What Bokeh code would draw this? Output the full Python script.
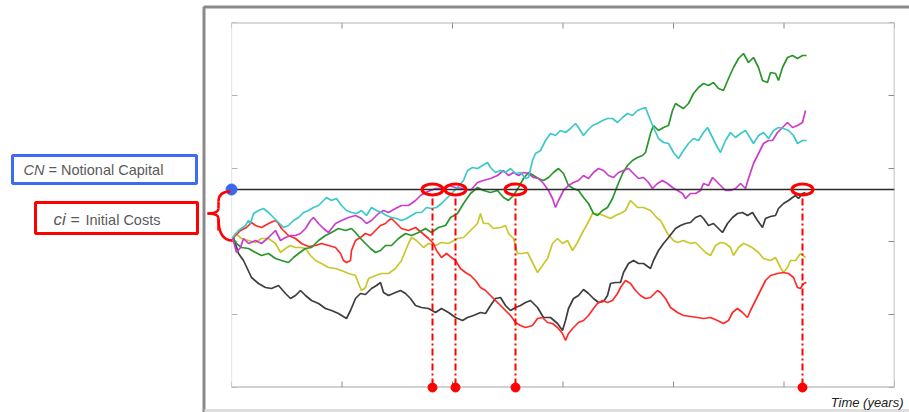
from bokeh.plotting import figure
from bokeh.models import Range1d, Span
from bokeh.core.properties import value
from bokeh.embed import file_html
from bokeh.resources import INLINE
import numpy as np

# ---------------- data (time steps, level) ----------------
T_END = 663
V_TOP = 365
CN_LEVEL = 198          # notional capital
START_LEVEL = 150       # CN minus initial costs
crossing_t = [201, 224, 284, 571]

black = [(2,150),(7,134),(12,127),(20,110),(27,104),(34,100),(40,99),(47,102),(54,94),(59,89),
         (64,92),(69,97),(74,92),(80,87),(87,84),(94,79),(100,77),(107,74),(115,69),(119,77),
         (124,89),(129,94),(134,93),(140,99),(145,102),(149,105),(152,95),(157,92),(164,95),(169,97),
         (174,94),(179,89),(184,82),(190,80),(197,79),(204,75),(210,79),(217,75),(224,70),(231,67),
         (236,70),(242,72),(249,75),(254,74),(259,82),(264,89),(269,90),(274,82),(279,77),(284,80),
         (289,82),(294,85),(299,87),(306,80),(312,70),(319,70),(326,64),(331,57),(334,67),(337,79),
         (342,89),(347,92),(352,98),(357,94),(362,89),(367,85),(372,86),(376,92),(379,104),(384,105),
         (389,105),(392,115),(397,124),(402,127),(407,124),(412,124),(419,119),(422,127),(427,137),(432,144),
         (437,150),(444,159),(449,162),(454,164),(459,165),(464,170),(469,172),(472,169),(477,162),(482,164),
         (487,159),(491,155),(496,164),(501,170),(506,174),(511,175),(516,172),(521,175),(526,167),(531,160),
         (534,169),(539,171),(544,172),(547,179),(552,184),(557,187),(561,190),(564,192),(567,189),(571,194),
         (574,195)]

red = [(2,150),(9,157),(15,160),(20,165),(24,162),(30,160),(39,165),(44,167),(47,164),(50,159),
       (57,152),(64,149),(70,144),(77,141),(84,142),(90,144),(97,142),(104,140),(109,134),(112,127),
       (115,125),(119,127),(120,137),(124,147),(129,150),(134,154),(139,152),(144,157),(149,162),(154,164),
       (157,167),(160,169),(164,165),(170,159),(177,157),(184,160),(190,155),(197,149),(202,144),(205,137),
       (210,130),(215,134),(220,130),(224,127),(229,119),(234,115),(239,112),(244,107),(249,100),(254,97),
       (259,92),(264,87),(269,82),(274,77),(279,72),(284,65),(289,62),(294,60),(301,62),(306,69),
       (311,70),(316,65),(321,64),(326,60),(331,54),(334,47),(337,54),(342,60),(347,65),(352,67),
       (357,72),(362,79),(366,84),(371,87),(376,85),(381,87),(386,94),(389,100),(394,107),(399,104),
       (404,97),(409,92),(414,89),(419,90),(426,97),(429,95),(434,89),(439,80),(446,75),(452,72),
       (459,71),(466,70),(472,69),(479,70),(486,67),(492,64),(497,67),(501,75),(506,79),(511,75),
       (516,70),(519,77),(524,87),(529,97),(534,107),(539,112),(546,114),(552,115),(557,114),(562,110),
       (566,100),(569,99),(572,104),(575,105)]

yellow = [(2,150),(4,154),(10,149),(17,147),(24,145),(30,149),(37,149),(44,144),(49,135),(54,139),
          (59,142),(64,140),(69,140),(74,139),(79,132),(84,127),(90,124),(97,120),(104,119),(110,117),
          (117,114),(124,112),(127,104),(130,97),(134,100),(137,109),(144,112),(150,114),(157,114),(164,119),
          (170,127),(177,144),(180,150),(185,147),(192,140),(197,144),(204,142),(210,145),(217,144),(226,149),
          (232,150),(239,157),(246,164),(249,174),(252,164),(257,164),(262,159),(269,160),(274,162),(277,154),
          (282,149),(286,134),(291,134),(296,135),(301,125),(306,115),(311,122),(316,129),(321,144),(326,149),
          (331,144),(336,147),(341,137),(346,145),(351,155),(356,164),(361,174),(366,174),(372,172),(379,169),
          (384,172),(389,174),(394,177),(399,187),(406,180),(412,180),(419,177),(426,169),(429,167),(436,154),
          (442,147),(446,145),(452,147),(459,144),(464,145),(469,140),(474,135),(479,132),(484,142),(489,145),
          (494,144),(499,140),(502,132),(507,140),(512,144),(517,142),(522,139),(527,135),(532,129),(539,127),
          (544,130),(549,120),(552,115),(556,120),(559,127),(564,127),(569,134),(574,130)]

green = [(1,150),(5,144),(10,140),(17,139),(24,135),(30,132),(37,134),(44,129),(50,127),(57,125),
         (62,130),(67,134),(74,139),(80,140),(87,147),(94,152),(100,155),(107,159),(114,157),(120,159),
         (124,155),(129,149),(134,144),(139,139),(144,135),(149,137),(154,142),(160,142),(167,149),(174,154),
         (180,152),(187,155),(194,159),(200,155),(207,160),(214,162),(219,170),(226,174),(232,184),(239,194),
         (246,200),(252,197),(259,195),(266,197),(272,190),(277,187),(282,192),(287,200),(292,209),(297,215),
         (302,212),(307,209),(312,207),(317,210),(322,215),(327,219),(332,214),(337,202),(342,199),(347,197),
         (352,190),(357,184),(362,174),(366,172),(371,177),(376,180),(381,189),(386,202),(391,214),(396,222),
         (401,227),(406,230),(411,232),(414,235),(419,254),(422,262),(427,257),(432,260),(437,262),(441,277),
         (444,284),(447,282),(452,279),(457,284),(462,294),(467,300),(472,304),(477,302),(482,305),(487,299),
         (492,297),(497,309),(502,320),(507,329),(512,334),(517,325),(522,330),(527,320),(531,307),(536,305),
         (539,315),(544,314),(547,307),(551,320),(556,330),(561,332),(566,329),(571,332),(575,332)]

magenta = [(1,150),(5,135),(9,140),(12,149),(17,144),(24,147),(30,144),(37,150),(44,157),(49,147),
           (54,150),(59,152),(64,152),(69,154),(74,159),(79,167),(82,170),(87,164),(92,159),(97,155),
           (104,164),(110,167),(117,170),(124,172),(130,169),(135,164),(140,167),(147,174),(152,177),(157,175),
           (164,179),(170,182),(177,182),(184,187),(189,192),(194,195),(199,197),(204,199),(210,199),(217,202),
           (224,200),(232,199),(239,197),(246,205),(252,207),(259,209),(266,212),(272,217),(277,212),(282,215),
           (287,212),(292,215),(297,214),(302,210),(307,209),(312,204),(317,197),(321,189),(324,180),(327,187),
           (332,197),(337,202),(342,205),(347,207),(352,212),(357,209),(362,215),(367,219),(372,217),(377,212),
           (382,210),(387,215),(392,217),(397,219),(402,214),(407,209),(412,210),(417,205),(421,199),(426,204),
           (431,207),(436,204),(441,200),(446,197),(451,194),(454,189),(459,194),(464,194),(469,197),(472,204),
           (477,202),(481,210),(486,205),(491,200),(494,197),(499,197),(504,199),(509,204),(514,199),(517,209),
           (522,224),(527,234),(532,244),(537,247),(541,247),(546,255),(551,260),(556,265),(561,260),(566,262),
           (571,265),(574,277)]

cyan = [(1,150),(7,157),(14,162),(17,167),(19,164),(22,174),(27,177),(32,179),(37,175),(42,170),
        (47,165),(52,160),(57,162),(62,167),(67,170),(72,175),(77,177),(82,180),(87,182),(92,187),
        (95,190),(100,187),(105,189),(110,182),(115,177),(120,175),(125,174),(130,177),(135,172),(140,180),
        (145,177),(150,175),(155,172),(160,170),(165,169),(170,167),(175,169),(180,172),(185,175),(190,175),
        (195,180),(200,179),(205,180),(210,184),(215,189),(220,194),(225,199),(232,207),(236,217),(241,220),
        (246,219),(251,222),(256,225),(259,220),(264,215),(269,217),(274,215),(279,219),(284,214),(289,215),
        (294,209),(297,210),(301,227),(304,234),(309,237),(314,247),(319,254),(324,252),(329,257),(334,255),
        (339,259),(344,264),(347,260),(352,252),(356,257),(361,262),(366,264),(371,267),(376,269),(381,269),
        (386,265),(391,270),(396,274),(401,272),(406,277),(411,279),(414,280),(417,272),(422,260),(427,249),
        (432,245),(437,244),(442,235),(447,229),(452,237),(457,244),(462,249),(467,247),(472,255),(476,260),
        (481,250),(486,240),(489,235),(494,247),(499,255),(504,250),(509,254),(514,257),(519,249),(522,244),
        (527,252),(532,255),(537,249),(542,257),(547,260),(552,259),(557,257),(562,252),(566,244),(571,247),
        (575,247)]

series = [
    (yellow, "#c8c82a"),
    (black, "#3d3d3d"),
    (red, "#ff2b2b"),
    (green, "#2a952a"),
    (magenta, "#cc3ccc"),
    (cyan, "#3cc8c8"),
]

x_ticks = [float(v) for v in np.linspace(0, T_END, 7)]
y_ticks = [float(v) for v in np.linspace(0, V_TOP, 6)]

# ---------------- figure ----------------
p = figure(width=909, height=412, output_backend="svg", toolbar_location=None,
           x_range=Range1d(0, T_END), y_range=Range1d(0, V_TOP),
           x_axis_type=None, y_axis_type=None,
           min_border_left=231, min_border_right=15, min_border_top=22, min_border_bottom=25)
p.grid.visible = False
p.outline_line_color = None
p.background_fill_color = "white"
p.border_fill_color = "white"

# axes box (MATLAB style, ticks pointing inwards)
p.add_layout(Span(location=0, dimension="height", line_color="#d2d2d2", line_width=1.2))
p.add_layout(Span(location=T_END, dimension="height", line_color="#b0b0b0", line_width=1.5))
p.add_layout(Span(location=0, dimension="width", line_color="#a4a4a4", line_width=2))
p.add_layout(Span(location=V_TOP, dimension="width", line_color="#b4b4b4", line_width=2))
TICK = 6
nx, ny = len(x_ticks), len(y_ticks)
p.segment(x0=x_ticks, y0=[0] * nx, x1=x_ticks, y1=[TICK] * nx, line_color="#8a8a8a", line_width=1)
p.segment(x0=x_ticks, y0=[V_TOP] * nx, x1=x_ticks, y1=[V_TOP - TICK] * nx, line_color="#8a8a8a", line_width=1)
p.segment(x0=[0] * ny, y0=y_ticks, x1=[TICK] * ny, y1=y_ticks, line_color="#b0b0b0", line_width=1)
p.segment(x0=[T_END] * ny, y0=y_ticks, x1=[T_END - TICK] * ny, y1=y_ticks, line_color="#8a8a8a", line_width=1)

for data, color in series:
    t = [a for a, b in data]
    v = [b for a, b in data]
    p.line(t, v, line_color=color, line_width=1.7)

p.add_layout(Span(location=CN_LEVEL, dimension="width", line_color="#2b2b2b", line_width=1.6))

# crossing markers
n = len(crossing_t)
p.segment(x0=crossing_t, y0=[CN_LEVEL - 9] * n, x1=crossing_t, y1=[0] * n,
          line_color="#ff0000", line_width=2, line_dash="7 3 2 3")
p.ellipse(x=crossing_t, y=[CN_LEVEL] * n, width=21, height=11,
          width_units="screen", height_units="screen",
          fill_color=None, line_color="#ff0000", line_width=3, level="overlay")
p.scatter(x=crossing_t, y=[0] * n, size=9, fill_color="#ff0000", line_color="#ff0000",
          level="overlay")

# starting point (notional capital)
p.scatter(x=[0], y=[CN_LEVEL], size=11, fill_color="#3a66f0", line_color="#3a66f0",
          level="overlay")

# curly brace between CN and starting level
mid = (CN_LEVEL + START_LEVEL) / 2
bx, tip = -13, -24
p.quadratic(x0=[-1, bx, tip, bx], y0=[CN_LEVEL - 2, mid + 5, mid, mid - 5],
            x1=[bx, tip, bx, 1], y1=[CN_LEVEL - 12, mid, mid - 5, START_LEVEL - 3],
            cx=[bx, bx, bx, bx], cy=[CN_LEVEL - 2, mid, mid, START_LEVEL - 3],
            line_color="#ff0000", line_width=2.5, level="overlay")
p.segment(x0=[bx, bx], y0=[CN_LEVEL - 12, mid - 5], x1=[bx, bx], y1=[mid + 5, START_LEVEL + 7],
          line_color="#ff0000", line_width=2.5, level="overlay")

# label boxes
p.quad(left=[-219], right=[-35], bottom=[204], top=[232], fill_color=None,
       line_color="#3d6cf0", line_width=3, level="overlay")
p.quad(left=[-196], right=[-34], bottom=[154], top=[185], fill_color=None,
       line_color="#ff0000", line_width=3, level="overlay")

# outer window frame
p.segment(x0=[-27.5, -27.5, -27], y0=[381, 380.5, -23], x1=[-27.5, 700, 700], y1=[-30, 380.5, -23],
          line_color=["#8a8a8a", "#8a8a8a", "#dedede"], line_width=3, level="overlay")

FONT = value("Liberation Sans")
GREY = "#5a5a5a"


def txt(x, y, s, size, style="normal", color=GREY, align="left", baseline="middle"):
    p.text(x=[x], y=[y], text=[s], text_font=FONT, text_font_style=style,
           text_font_size=size, text_color=color, text_align=align,
           text_baseline=baseline, level="overlay")


txt(-208, 218, "CN", "14.5px", "italic")
txt(-183, 218, "= Notional Capital", "14.5px")
txt(-178, 168, "ci", "17px", "italic")
txt(-161, 168, "=", "16px")
txt(-146, 168, "Initial Costs", "14.5px")
txt(672, -15, "Time (years)", "13px", "italic", "#222222", "right", "alphabetic")

open("out.html", "w").write(file_html(p, INLINE))
